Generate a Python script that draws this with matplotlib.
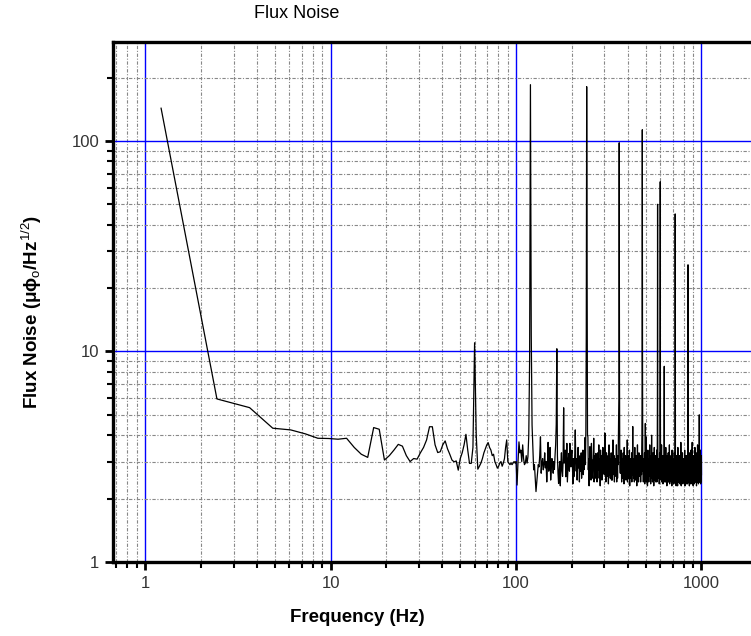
import numpy as np
import matplotlib
matplotlib.use("Agg")
import matplotlib.pyplot as plt
from matplotlib.ticker import LogLocator, FuncFormatter, NullFormatter

plt.rcParams['font.family'] = ['Liberation Sans', 'DejaVu Sans']
plt.rcParams['mathtext.fontset'] = 'custom'
plt.rcParams['mathtext.rm'] = 'Liberation Sans'
plt.rcParams['mathtext.it'] = 'Liberation Sans:italic'
plt.rcParams['mathtext.bf'] = 'Liberation Sans:bold'

# FFT bin spacing (Hz)
bin_width_hz = 1.2207

# flux noise values per FFT bin
noise_0_100hz = [
    143, 5.95, 5.41, 4.32, 4.24, 4.06, 3.87, 3.86, 3.83, 3.87,
    3.5, 3.25, 3.14, 4.35, 4.27, 3.05, 3.2, 3.4, 3.62, 3.55,
    3.2, 3.0, 3.1, 3.08, 3.3, 3.5, 3.8, 4.39, 4.39, 3.6,
    3.31, 3.34, 3.6, 3.76, 3.45, 3.25, 3.05, 2.99, 3.02, 2.73,
    3.1, 3.3, 3.6, 4.04, 3.4, 2.94, 2.94, 3.5, 11.0, 4.0,
    2.76, 2.85, 2.95, 3.1, 3.3, 3.45, 3.6, 3.69, 3.5, 3.4,
    3.2, 3.25, 3.0, 2.9, 2.79, 2.85, 2.95, 3.0, 2.85, 2.95,
    3.1, 3.5, 3.8, 3.0, 2.95, 2.9, 2.95, 2.9, 2.95, 3.0,
    2.95, 3.0,
]
noise_100_400hz = [
    2.32, 3.0, 3.72, 3.3, 3.4, 3.0, 3.6, 3.1, 2.9, 2.95, 3.2, 2.95, 3.16, 4.0, 9.0, 185, 12, 4.47, 3.5, 2.74,
    2.9, 2.5, 2.16, 2.4, 2.64, 2.9, 2.83, 3.2, 3.93, 2.64, 2.95, 3.1, 2.74, 2.9, 3.3, 2.8, 3.0, 2.4, 2.85, 3.7,
    2.7, 2.95, 3.5, 2.45, 2.8, 3.1, 2.9, 2.64, 3.0, 2.75, 3.2, 3.6, 4.5, 10.3, 3.2, 2.64, 2.36, 2.74, 3.0, 2.3,
    2.9, 3.3, 2.7, 2.55, 3.0, 5.4, 2.95, 3.2, 3.4, 2.54, 2.8, 3.66, 2.4, 2.74, 3.1, 3.28, 2.7, 3.66, 3.0, 2.83,
    3.2, 3.4, 2.9, 2.35, 3.1, 2.54, 2.8, 3.3, 4.24, 3.0, 2.7, 3.1, 2.45, 2.9, 3.5, 2.8, 3.2, 2.4, 3.0, 2.7,
    2.95, 3.3, 2.5, 3.1, 2.8, 3.4, 2.6, 3.0, 2.75, 3.2, 3.9, 2.9, 4.2, 12, 181, 20, 4.0, 3.93, 2.74, 3.1,
    2.3, 2.8, 3.53, 2.7, 2.9, 2.45, 3.66, 3.1, 2.5, 2.8, 3.05, 2.9, 3.87, 2.4, 2.74, 3.2, 2.5, 2.9, 3.28, 2.7,
    3.0, 2.4, 2.8, 3.3, 2.74, 2.9, 3.6, 2.5, 3.1, 2.8, 2.3, 3.4, 2.9, 2.7, 3.2, 2.45, 3.0, 2.8, 3.5, 2.65,
    2.9, 3.1, 2.6, 2.85, 4.1, 2.7, 3.0, 2.4, 2.9, 3.3, 2.6, 2.8, 3.0, 2.55, 3.2, 2.35, 2.9, 3.6, 2.6, 2.8,
    3.1, 2.5, 2.95, 2.7, 3.3, 2.45, 2.9, 3.0, 2.45, 2.8, 3.8, 2.7, 2.9, 2.6, 3.2, 2.4, 3.0, 2.55, 2.85, 3.1,
    2.7, 2.9, 3.6, 2.4, 2.8, 3.0, 2.5, 3.2, 2.9, 4.0, 5.0, 6.0, 98, 8.0, 3.16, 2.8, 2.64, 3.0, 2.7, 3.4,
    2.9, 2.4, 3.1, 2.75, 2.5, 3.0, 2.85, 3.3, 2.6, 2.9, 2.35, 3.5, 2.55, 2.8, 3.0, 2.65, 3.2, 2.9, 2.45, 2.8,
]
noise_400_700hz = [
    3.1, 2.7, 2.95, 3.8, 2.4, 2.8, 3.0, 2.5, 2.9, 3.2, 2.65, 2.85, 3.4, 2.3, 2.75, 3.0, 2.5, 2.9, 3.1, 2.7,
    2.8, 3.3, 2.4, 2.9, 2.7, 3.0, 4.4, 2.6, 2.85, 3.1, 2.5, 2.75, 3.0, 2.4, 2.9, 3.5, 2.6, 2.8, 2.45, 3.0,
    2.7, 2.9, 3.2, 2.6, 2.3, 3.0, 2.5, 3.6, 2.75, 2.9, 2.6, 3.1, 2.4, 2.85, 3.3, 2.55, 2.9, 2.7, 3.0, 2.6,
    2.8, 3.2, 2.4, 2.9, 2.7, 3.0, 2.6, 3.4, 4.0, 7.0, 113, 9.0, 3.5, 2.7, 2.9, 2.4, 3.1, 2.8, 2.6, 3.0,
    2.75, 3.3, 2.35, 2.9, 2.7, 4.55, 3.0, 2.6, 3.93, 2.8, 2.4, 2.9, 3.2, 2.65, 2.8, 3.0, 2.3, 2.9, 3.4, 2.7,
    2.6, 2.85, 3.0, 2.4, 2.9, 3.1, 2.65, 2.8, 3.6, 2.55, 2.9, 2.7, 3.0, 2.35, 2.8, 3.2, 2.5, 2.75, 4.0, 2.9,
    2.6, 2.8, 3.1, 2.4, 2.9, 2.7, 3.3, 2.6, 2.85, 3.0, 2.3, 2.8, 2.7, 3.5, 2.6, 2.9, 2.45, 3.0, 2.75, 2.6,
    3.2, 2.7, 2.4, 2.9, 2.8, 3.0, 2.6, 3.4, 2.4, 2.8, 3.0, 6.0, 50, 4.0, 2.7, 2.9, 2.5, 3.1, 2.65, 2.8,
    2.6, 3.0, 2.35, 2.9, 3.3, 2.7, 2.6, 8.0, 64, 5.0, 2.8, 2.45, 3.0, 2.7, 2.5, 2.9, 3.6, 2.4, 2.8, 2.45,
    3.0, 2.7, 2.6, 2.85, 3.2, 2.35, 2.9, 2.7, 2.6, 3.1, 2.8, 2.4, 3.4, 8.5, 2.7, 2.9, 2.6, 2.8, 2.4, 3.0,
    2.7, 2.6, 2.9, 3.5, 2.4, 2.8, 2.7, 3.0, 2.55, 2.9, 2.3, 3.2, 2.7, 2.5, 2.85, 3.0, 2.6, 2.75, 2.4, 3.3,
    2.8, 2.6, 2.9, 2.4, 3.0, 2.7, 2.6, 3.6, 2.75, 2.35, 2.9, 2.65, 3.1, 2.6, 2.8, 2.45, 2.9, 2.7, 3.2, 2.4,
    2.8, 2.55, 3.0, 2.7, 2.3, 2.9, 3.4, 2.5, 2.75, 2.6, 3.0, 2.7, 2.4, 2.9, 2.65, 3.1, 2.6, 2.8, 2.35, 2.9,
]
noise_700_1000hz = [
    2.7, 3.3, 2.6, 2.4, 2.85, 2.7, 3.0, 6.0, 45, 5.0, 2.6, 2.8, 2.45, 2.9, 2.7, 2.3, 3.2, 2.6, 2.8, 2.7,
    2.4, 2.9, 2.65, 3.0, 2.6, 2.75, 2.3, 2.9, 3.5, 2.6, 2.8, 2.4, 2.7, 3.0, 2.6, 2.85, 2.4, 2.7, 2.9, 2.6,
    3.2, 2.45, 2.8, 2.7, 2.35, 3.0, 2.6, 2.75, 2.9, 2.4, 2.7, 3.7, 2.6, 2.8, 2.3, 2.9, 2.7, 2.6, 3.0, 2.45,
    2.8, 2.7, 2.4, 2.9, 3.3, 2.6, 2.75, 2.35, 2.85, 2.7, 3.0, 2.6, 2.4, 2.8, 2.7, 3.1, 2.45, 2.9, 2.6, 2.7,
    2.4, 2.8, 3.4, 2.6, 2.7, 2.3, 2.9, 2.65, 3.0, 2.6, 2.75, 2.4, 2.9, 2.7, 2.6, 3.2, 2.35, 2.8, 2.7, 2.6,
    2.9, 2.4, 2.75, 3.0, 2.6, 2.8, 2.35, 3.6, 2.7, 4.0, 25.8, 3.0, 2.6, 2.8, 2.4, 2.9, 2.7, 2.6, 3.1, 2.45,
    2.8, 2.7, 2.3, 2.9, 2.6, 3.3, 2.75, 2.4, 2.8, 2.65, 3.0, 2.6, 2.35, 2.9, 2.7, 2.6, 3.4, 2.45, 2.8, 2.7,
    2.4, 2.9, 2.6, 3.0, 2.7, 2.35, 2.85, 3.7, 2.6, 2.7, 2.4, 2.9, 2.65, 3.1, 2.6, 2.8, 2.3, 2.75, 2.9, 2.6,
    2.7, 3.2, 2.4, 2.8, 2.6, 2.9, 2.35, 2.7, 3.0, 2.6, 2.8, 2.45, 3.5, 2.7, 2.6, 2.9, 2.4, 2.8, 2.7, 3.0,
    2.6, 2.4, 2.85, 2.7, 3.3, 2.6, 2.8, 2.3, 2.9, 2.65, 2.7, 3.1, 2.45, 2.8, 2.6, 2.9, 2.4, 3.6, 2.7, 2.6,
    2.8, 2.4, 2.9, 2.7, 3.2, 2.6, 2.35, 2.8, 2.7, 3.0, 2.6, 2.9, 2.4, 3.8, 5.0, 2.7, 2.6, 2.85, 2.4, 3.1,
    2.7, 2.6, 2.9, 2.4, 2.8, 3.4, 2.6, 2.7, 2.35, 2.9, 2.6, 3.0, 2.4, 2.8, 2.7, 3.2, 2.6,
]

x_tick_values = [1, 10, 100, 1000]
y_tick_values = [1, 10, 100]

flux_noise = np.array(noise_0_100hz + noise_100_400hz + noise_400_700hz + noise_700_1000hz)
frequency = bin_width_hz * np.arange(1, len(flux_noise) + 1)

fig = plt.figure(figsize=(7.51, 6.36), dpi=100)
ax = fig.add_axes([113 / 751, 1 - 562 / 636, 1 - 113 / 751, (562 - 42) / 636])

ax.plot(frequency, flux_noise, color='black', lw=0.9, zorder=3)

ax.set_xscale('log')
ax.set_yscale('log')
ax.set_xlim(0.672, 1849)
ax.set_ylim(1, 295)

ax.xaxis.set_minor_locator(LogLocator(base=10, subs=np.arange(2, 10)))
ax.yaxis.set_minor_locator(LogLocator(base=10, subs=np.arange(2, 10)))
ax.set_xticks(x_tick_values)
ax.set_yticks(y_tick_values)
fmt = FuncFormatter(lambda v, p: f"{int(round(v))}")
ax.xaxis.set_major_formatter(fmt)
ax.yaxis.set_major_formatter(fmt)
ax.xaxis.set_minor_formatter(NullFormatter())
ax.yaxis.set_minor_formatter(NullFormatter())

ax.grid(True, which='major', color='#0000ff', lw=1.0, ls='-', zorder=1)
ax.grid(True, which='minor', color='#888888', lw=0.8, ls=(0, (3, 1.5, 1, 1.5)), zorder=0)

for s in ['left', 'bottom', 'top']:
    ax.spines[s].set_linewidth(2.4)
    ax.spines[s].set_color('black')
ax.spines['right'].set_visible(False)

ax.tick_params(which='major', direction='out', length=6, width=2, labelsize=12,
               labelcolor='#333333', top=False, right=False, pad=4)
ax.tick_params(which='minor', direction='out', length=4, width=1.5, top=False, right=False)

fig.text(297 / 751, 1 - 14 / 636, 'Flux Noise', ha='center', va='center', fontsize=13)
fig.text(357 / 751, 1 - 617 / 636, 'Frequency (Hz)', ha='center', va='center',
         fontsize=13.5, fontweight='bold')
fig.text(32 / 751, 1 - 312 / 636, 'Flux Noise (μϕ$_{\\mathrm{o}}$/Hz$^{\\mathrm{1/2}}$)',
         ha='center', va='center', rotation=90, fontsize=13.5, fontweight='bold')

fig.savefig('out.png', dpi=100)
